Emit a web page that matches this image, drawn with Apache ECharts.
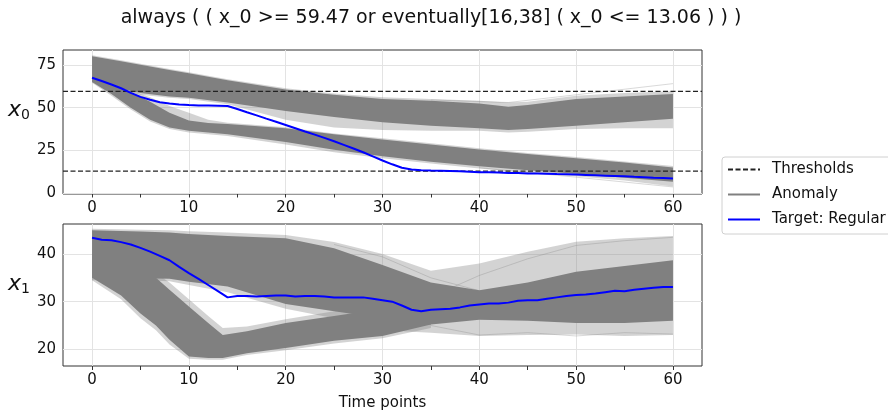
<!DOCTYPE html>
<html><head><meta charset="utf-8">
<script src="https://cdn.jsdelivr.net/npm/echarts@6/dist/echarts.min.js"></script>
<style>html,body{margin:0;padding:0;background:#fff}#c{width:888px;height:412px}</style>
</head><body><div id="c"></div>
<script>
// ---------- data ----------
const titleText = 'always ( ( x_0 >= 59.47 or eventually[16,38] ( x_0 <= 13.06 ) ) )';
const thresholds = [59.47, 13.06];
const timeLabels = [0, 10, 20, 30, 40, 50, 60];
const timeTicks = [0, 5, 10, 15, 20, 25, 30, 35, 40, 45, 50, 55, 60];
const x0Ticks = [0, 25, 50, 75];
const x1Ticks = [20, 30, 40];
const timePoints = Array.from({length: 61}, (_, i) => i);

const x0Target = [67.4, 65.5, 63.5, 61.3, 58.6, 56.3, 54.6, 53.2, 52.4, 51.8, 51.5, 51.3, 51.2, 51.1, 51.0,
  49.2, 47.3, 45.5, 43.6, 41.8, 39.9, 38.0, 36.1, 34.3, 32.4, 30.4, 28.3, 26.2, 24.0, 21.6, 19.2,
  17.0, 15.0, 14.0, 13.6, 13.4, 13.3, 13.1, 12.9, 12.7, 12.4, 12.3, 12.2, 12.0, 11.9, 11.7, 11.6,
  11.5, 11.3, 11.2, 11.0, 10.8, 10.6, 10.4, 10.2, 10.0, 9.7, 9.5, 9.2, 9.0, 8.7];
const x1Target = [43.4, 43.0, 42.9, 42.5, 42.0, 41.3, 40.5, 39.6, 38.7, 37.3, 36.0, 34.8, 33.5, 32.2, 30.9,
  31.2, 31.2, 31.1, 31.2, 31.3, 31.3, 31.1, 31.2, 31.2, 31.1, 30.9, 30.9, 30.9, 30.9, 30.6, 30.3,
  30.0, 29.2, 28.3, 28.0, 28.3, 28.4, 28.5, 28.8, 29.2, 29.4, 29.6, 29.6, 29.8, 30.2, 30.3, 30.3,
  30.6, 30.9, 31.2, 31.4, 31.5, 31.7, 32.0, 32.3, 32.2, 32.5, 32.7, 32.9, 33.1, 33.1];

// anomaly bundles (envelopes)
const x0UpperT = [0, 3, 5, 8, 10, 14, 20, 25, 30, 35, 40, 43, 45, 50, 55, 60];
const x0UpperHi = [80, 77, 75, 72, 70, 66, 60.6, 57.5, 55, 54, 52.5, 50.5, 51.5, 55, 56.5, 58];
const x0UpperLo = [65.5, 61, 58.5, 56.5, 55.8, 53, 48, 44.5, 41.5, 39.5, 38, 37, 37.5, 39.5, 41.5, 43.5];
const x0UpperFaintHi = [80.6, 77.6, 75.6, 72.6, 70.6, 66.6, 61.3, 58.3, 56, 55, 54, 53, 53.5, 57, 58.5, 59.5];
const x0UpperFaintLo = [65, 60, 57.5, 55.8, 55, 52, 43, 38.5, 37, 36.5, 36.5, 35.5, 36, 37.5, 38, 38];

const x0LowerT = [0, 2, 4, 6, 8, 10, 12, 14, 20, 25, 30, 35, 40, 45, 50, 55, 60];
const x0LowerHi = [67.5, 63.5, 59, 53.5, 47, 42.5, 41, 40.5, 38, 34.5, 31.5, 28.5, 25.7, 23, 20.5, 18, 15.2];
const x0LowerLo = [65, 58, 50, 43, 38.5, 36.5, 35.5, 34.5, 30, 25.5, 21.7, 18.5, 15.8, 13.5, 11.5, 9.2, 6.8];
const x0LowerFaintHi = [68, 64.5, 60, 56, 51, 47, 43, 41.2, 38.6, 35, 32.2, 29.2, 26.4, 23.6, 21.2, 18.6, 16];
const x0LowerFaintLo = [64.5, 57, 49, 42, 37.5, 35.5, 34.5, 33.5, 28.5, 24, 20.5, 17.5, 14.5, 12, 10, 7.5, 4];

const x1UpperT = [0, 5, 8, 10, 14, 20, 25, 30, 35, 40, 45, 50, 55, 60];
const x1UpperHi = [45, 44.7, 44.5, 44.2, 43.8, 43.3, 41.2, 37.7, 34, 32.4, 34, 36.3, 37.5, 38.7];
const x1UpperLo = [35, 34.9, 34.8, 34.2, 33.2, 29.5, 28, 26.5, 25.2, 26.2, 26, 25.5, 25.5, 26];
const x1UpperFaintHi = [45.3, 45.1, 45, 44.8, 44.5, 44, 42.5, 40, 36.5, 38, 40.5, 42.6, 43.3, 43.8];
const x1UpperFaintLo = [34.5, 34.5, 34.3, 33.5, 32, 28.5, 26.5, 24, 23.5, 22.8, 23, 23.1, 22.8, 23];

const x1LowerT = [0, 3, 5, 6.6, 8, 10, 12, 13.5, 16, 20, 25, 30, 35];
const x1LowerHi = [40, 38.5, 37, 35, 32.5, 29, 25.5, 23, 23.8, 25.5, 27, 28.5, 28];
const x1LowerLo = [35, 31.3, 27.5, 25, 22, 18.5, 18.2, 18.2, 19.2, 20.3, 21.8, 22.8, 25.2];
const x1LowerFaintHi = [41, 39.5, 38, 36, 34, 30.5, 27, 24.5, 24.8, 26.3, 28, 29.5, 29];
const x1LowerFaintLo = [34.5, 30.5, 26.5, 24, 21, 18, 17.8, 17.8, 18.8, 19.8, 21.2, 22.3, 24.5];

// a few individual faint anomaly traces
const x0OutlierA = [[35, 54.5], [43, 53], [50, 57.5], [60, 64]];
const x0OutlierB = [[40, 15], [50, 9.5], [60, 3.8]];
const x1OutlierA = [[35, 31], [40, 35.5], [45, 39], [50, 41.8], [55, 42.8], [60, 43.5]];
const x1OutlierB = [[25, 42], [30, 39.4], [35, 35], [40, 32.3]];
const x1OutlierC = [[35, 25], [40, 23], [45, 23.5], [50, 22.8], [55, 23.5], [60, 23.2]];

// ---------- chart ----------
const FONT = 'DejaVu Sans';
const TXT = '#111';
const chart = echarts.init(document.getElementById('c'), null, {renderer: 'canvas'});

function band(idx, T, hi, lo, opacity) {
  return {
    type: 'custom', name: 'band', xAxisIndex: idx, yAxisIndex: idx, silent: true, clip: true, z: 2,
    data: [[T[0], hi[0]]],
    renderItem: function (params, api) {
      const pts = [];
      for (let i = 0; i < T.length; i++) pts.push(api.coord([T[i], hi[i]]));
      for (let i = T.length - 1; i >= 0; i--) pts.push(api.coord([T[i], lo[i]]));
      return {type: 'polygon', shape: {points: pts}, style: {fill: '#808080', opacity: opacity}};
    }
  };
}
function faint(idx, pts) {
  return {type: 'line', name: 'Anomaly', xAxisIndex: idx, yAxisIndex: idx, data: pts, symbol: 'none',
    silent: true, z: 3, lineStyle: {color: '#808080', width: 1, opacity: 0.3}, itemStyle: {color: '#808080'}};
}
function gridLines(idx, yt) {
  return {type: 'line', name: 'grid', xAxisIndex: idx, yAxisIndex: idx, data: [], silent: true, z: 1,
    markLine: {silent: true, z: 1, symbol: 'none', animation: false, label: {show: false},
      lineStyle: {color: '#e3e3e3', width: 1, type: 'solid'},
      data: timeLabels.map(v => ({xAxis: v})).concat(yt.map(v => ({yAxis: v})))}};
}
function xAx(idx, withName) {
  return {type: 'value', gridIndex: idx, min: -3, max: 63,
    name: withName ? 'Time points' : '', nameLocation: 'middle', nameGap: 30,
    nameTextStyle: {fontFamily: FONT, fontSize: 15, color: TXT},
    axisLine: {show: false}, splitLine: {show: false},
    axisTick: {show: true, customValues: timeTicks, length: 4, lineStyle: {color: '#333'}},
    axisLabel: {customValues: timeLabels, fontFamily: FONT, fontSize: 15, color: TXT, margin: 7}};
}
function yAx(idx, min, max, ticks) {
  return {type: 'value', gridIndex: idx, min: min, max: max,
    axisLine: {show: false}, splitLine: {show: false},
    axisTick: {show: true, customValues: ticks, length: 4, lineStyle: {color: '#333'}},
    axisLabel: {customValues: ticks, fontFamily: FONT, fontSize: 15, color: TXT, margin: 7}};
}

const option = {
  backgroundColor: '#ffffff',
  animation: false,
  grid: [
    {left: 63, top: 50, width: 639, height: 144, show: true, borderColor: '#333', borderWidth: 1, backgroundColor: 'transparent'},
    {left: 63, top: 224, width: 639, height: 144, show: true, borderColor: '#333', borderWidth: 1, backgroundColor: 'transparent'}
  ],
  xAxis: [xAx(0, false), xAx(1, true)],
  yAxis: [yAx(0, -0.3, 83.6, x0Ticks), yAx(1, 16.5, 46.3, x1Ticks)],
  legend: {
    orient: 'vertical', left: 722, top: 157, padding: [5, 40, 7, 5],
    itemWidth: 32, itemHeight: 14, itemGap: 10,
    borderColor: '#d0d0d0', borderWidth: 1, borderRadius: 3, backgroundColor: '#fff',
    itemStyle: {opacity: 0},
    textStyle: {fontFamily: FONT, fontSize: 15, color: TXT, padding: [0, 0, 0, 7]},
    data: [
      {name: 'Thresholds', itemStyle: {opacity: 0}},
      {name: 'Anomaly', itemStyle: {opacity: 0}, lineStyle: {opacity: 1, width: 2}},
      {name: 'Target: Regular', itemStyle: {opacity: 0}}
    ]
  },
  graphic: [
    {type: 'text', x: 431, y: 18, style: {text: titleText, font: '19px "DejaVu Sans"', fill: TXT, textAlign: 'center', textVerticalAlign: 'middle', align: 'center', verticalAlign: 'middle'}},
    {type: 'text', x: 8, y: 110, style: {text: 'x', font: 'italic 22px "DejaVu Sans"', fill: TXT, textVerticalAlign: 'middle', verticalAlign: 'middle'}},
    {type: 'text', x: 21, y: 115, style: {text: '0', font: '14px "DejaVu Sans"', fill: TXT, textVerticalAlign: 'middle', verticalAlign: 'middle'}},
    {type: 'text', x: 8, y: 284, style: {text: 'x', font: 'italic 22px "DejaVu Sans"', fill: TXT, textVerticalAlign: 'middle', verticalAlign: 'middle'}},
    {type: 'text', x: 21, y: 289, style: {text: '1', font: '14px "DejaVu Sans"', fill: TXT, textVerticalAlign: 'middle', verticalAlign: 'middle'}}
  ],
  series: [
    gridLines(0, x0Ticks), gridLines(1, x1Ticks),
    band(0, x0UpperT, x0UpperFaintHi, x0UpperFaintLo, 0.35),
    band(0, x0LowerT, x0LowerFaintHi, x0LowerFaintLo, 0.35),
    band(0, x0UpperT, x0UpperHi, x0UpperLo, 1),
    band(0, x0LowerT, x0LowerHi, x0LowerLo, 1),
    band(1, x1UpperT, x1UpperFaintHi, x1UpperFaintLo, 0.35),
    band(1, x1LowerT, x1LowerFaintHi, x1LowerFaintLo, 0.35),
    band(1, x1UpperT, x1UpperHi, x1UpperLo, 1),
    band(1, x1LowerT, x1LowerHi, x1LowerLo, 1),
    faint(0, x0OutlierA), faint(0, x0OutlierB),
    faint(1, x1OutlierA), faint(1, x1OutlierB), faint(1, x1OutlierC),
    {type: 'line', name: 'Thresholds', xAxisIndex: 0, yAxisIndex: 0, data: [[-3, thresholds[0]], [63, thresholds[0]]],
      symbol: 'none', silent: true, z: 5, lineStyle: {color: '#222', width: 1.3, type: [5, 2.5]}, itemStyle: {color: '#222'}},
    {type: 'line', name: 'Thresholds', xAxisIndex: 0, yAxisIndex: 0, data: [[-3, thresholds[1]], [63, thresholds[1]]],
      symbol: 'none', silent: true, z: 5, lineStyle: {color: '#222', width: 1.3, type: [5, 2.5]}, itemStyle: {color: '#222'}},
    {type: 'line', name: 'Target: Regular', xAxisIndex: 0, yAxisIndex: 0, data: timePoints.map((t, i) => [t, x0Target[i]]),
      symbol: 'none', z: 6, lineStyle: {color: '#0000ff', width: 2}, itemStyle: {color: '#0000ff'}},
    {type: 'line', name: 'Target: Regular', xAxisIndex: 1, yAxisIndex: 1, data: timePoints.map((t, i) => [t, x1Target[i]]),
      symbol: 'none', z: 6, lineStyle: {color: '#0000ff', width: 2}, itemStyle: {color: '#0000ff'}}
  ]
};
chart.setOption(option);
</script></body></html>
